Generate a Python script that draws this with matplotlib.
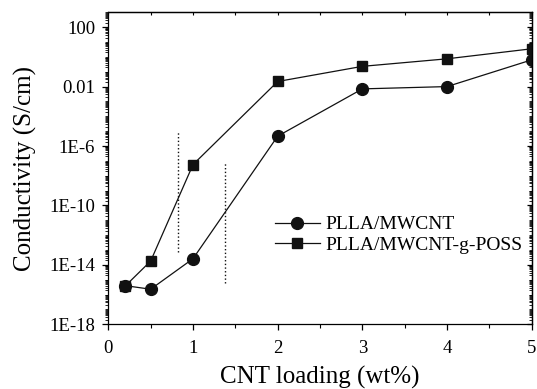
import numpy as np
import matplotlib
matplotlib.use('Agg')
import matplotlib.pyplot as plt
from matplotlib.ticker import LogLocator, FixedLocator, MultipleLocator, NullFormatter

plt.rcParams['font.family'] = ['Liberation Serif', 'DejaVu Serif']

# ===== 数据 =====
loading = [0.2, 0.5, 1, 2, 3, 4, 5]
mwcnt = [4e-16, 2.3e-16, 2.6e-14, 4.6e-6, 7e-3, 1.0e-2, 0.63]
mwcnt_poss = [3.8e-16, 1.8e-14, 5.6e-8, 2.2e-2, 0.23, 0.74, 3.5]

# 逾渗阈值虚线 (x, 下端, 上端)
perc_x = [0.82, 1.38]
perc_low = [7e-14, 6.5e-16]
perc_high = [9e-6, 9e-8]

y_ticks = [1e-18, 1e-14, 1e-10, 1e-6, 1e-2, 1e2]
y_labels = ['1E-18', '1E-14', '1E-10', '1E-6', '0.01', '100']

fig = plt.figure(figsize=(5.37, 3.89), dpi=100)
ax = fig.add_axes([0.2017, 0.1663, 0.7885, 0.8021])

ax.plot(loading, mwcnt, '-o', color='#111111', lw=0.9, ms=8.5, label='PLLA/MWCNT')
ax.plot(loading, mwcnt_poss, '-s', color='#111111', lw=0.9, ms=7.2, label='PLLA/MWCNT-g-POSS')

for x, lo, hi in zip(perc_x, perc_low, perc_high):
    ax.plot([x, x], [lo, hi], ':', color='#111111', lw=1.0)

ax.set_yscale('log')
ax.set_xlim(0, 5)
ax.set_ylim(1e-18, 1e3)
ax.yaxis.set_major_locator(FixedLocator(y_ticks))
ax.set_yticklabels(y_labels)
ax.yaxis.set_minor_locator(LogLocator(base=10, subs=np.arange(1, 10), numticks=200))
ax.yaxis.set_minor_formatter(NullFormatter())
ax.xaxis.set_major_locator(MultipleLocator(1))
ax.xaxis.set_minor_locator(MultipleLocator(0.5))

# 左/下刻度朝外，右/上刻度朝内
ax.tick_params(axis='y', which='both', direction='out', left=True, labelsize=13.5, pad=5.5)
ax.tick_params(axis='y', which='major', length=4, width=0.9)
ax.tick_params(axis='y', which='minor', length=2.5, width=0.6)
ax.tick_params(axis='x', which='both', direction='out', bottom=True, labelsize=13.5, pad=7)
ax.tick_params(axis='x', which='major', length=4, width=0.9)
ax.tick_params(axis='x', which='minor', length=3, width=0.8)

ax2 = ax.secondary_yaxis('right')
ax2.yaxis.set_major_locator(FixedLocator(y_ticks))
ax2.yaxis.set_minor_locator(LogLocator(base=10, subs=np.arange(1, 10), numticks=200))
ax2.yaxis.set_major_formatter(NullFormatter())
ax2.yaxis.set_minor_formatter(NullFormatter())
ax2.tick_params(which='major', direction='in', length=3.5, width=0.9)
ax2.tick_params(which='minor', direction='in', length=2, width=0.6)
ax2.spines['right'].set_linewidth(0.9)

ax3 = ax.secondary_xaxis('top')
ax3.xaxis.set_major_locator(MultipleLocator(0.5))
ax3.xaxis.set_major_formatter(NullFormatter())
ax3.tick_params(which='major', direction='in', length=2.5, width=0.8)
ax3.tick_params(which='minor', length=0)
ax3.spines['top'].set_linewidth(0.9)

for s in ax.spines.values():
    s.set_linewidth(0.9)

ax.set_xlabel('CNT loading (wt%)', fontsize=18, labelpad=6.5)
ax.set_ylabel('Conductivity (S/cm)', fontsize=18, labelpad=9)

ax.legend(loc='upper left', bbox_to_anchor=(0.375, 0.373), frameon=False,
          fontsize=14, handlelength=2.3, handletextpad=0.3, labelspacing=0.15,
          borderaxespad=0)

plt.savefig('out.png', dpi=100)
